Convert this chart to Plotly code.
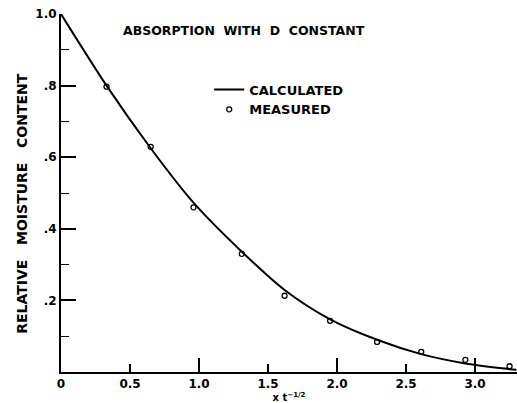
import plotly.graph_objects as go

# Calculated curve
calc_x = [0.0, 0.33, 0.65, 0.96, 1.31, 1.62, 1.95, 2.29, 2.61, 2.93, 3.30]
calc_y = [1.0, 0.80, 0.625, 0.473, 0.336, 0.229, 0.147, 0.090, 0.050, 0.024, 0.006]

# Measured points
meas_x = [0.33, 0.65, 0.96, 1.31, 1.62, 1.95, 2.29, 2.61, 2.93, 3.25]
meas_y = [0.797, 0.629, 0.46, 0.33, 0.213, 0.143, 0.084, 0.056, 0.034, 0.016]

x_tickvals = [0, 0.5, 1.0, 1.5, 2.0, 2.5, 3.0]
x_ticktext = ["0", "0.5", "1.0", "1.5", "2.0", "2.5", "3.0"]
y_tickvals = [0.2, 0.4, 0.6, 0.8, 1.0]
y_ticktext = [".2", ".4", ".6", ".8", "1.0"]

FONT = "DejaVu Sans"

fig = go.Figure()
fig.add_trace(go.Scatter(
    x=calc_x, y=calc_y, mode="lines", name="CALCULATED",
    line=dict(color="black", width=2, shape="spline", smoothing=0.8),
))
fig.add_trace(go.Scatter(
    x=meas_x, y=meas_y, mode="markers", name="MEASURED",
    marker=dict(symbol="circle-open", size=5, color="black", line=dict(width=1.3, color="black")),
))
# overlay axis carrying the longer ticks at whole numbers
fig.add_trace(go.Scatter(x=[0, 3.3], y=[0, 0], xaxis="x2", mode="lines",
                         line=dict(width=0), showlegend=False, hoverinfo="skip"))

fig.update_layout(
    width=517, height=403,
    margin=dict(l=61, r=0, t=14, b=31),
    paper_bgcolor="white", plot_bgcolor="white",
    font=dict(family=FONT, color="black"),
    showlegend=True,
    legend=dict(x=0.325, y=0.831, xanchor="left", yanchor="top",
                bgcolor="rgba(0,0,0,0)", borderwidth=0,
                font=dict(family=FONT, size=13, color="black", weight="bold"),
                tracegroupgap=0, itemwidth=30),
    xaxis=dict(
        range=[0, 3.304], showgrid=False, zeroline=False,
        showline=True, linecolor="black", linewidth=2,
        ticks="inside", ticklen=8, tickwidth=1.5, tickcolor="black",
        tickvals=x_tickvals, ticktext=x_ticktext,
        tickfont=dict(family=FONT, size=12, color="black", weight="bold"),
        title=dict(text="x t<sup>\u22121/2</sup>", font=dict(family=FONT, size=10, color="black", weight="bold"), standoff=0),
    ),
    xaxis2=dict(
        overlaying="x", matches="x", range=[0, 3.304], side="bottom",
        showgrid=False, zeroline=False, showline=False,
        ticks="inside", ticklen=14, tickwidth=1.5, tickcolor="black",
        tickvals=[1.0, 2.0, 3.0], showticklabels=False,
    ),
    yaxis=dict(
        range=[0, 1.0], showgrid=False, zeroline=False,
        showline=True, linecolor="black", linewidth=2,
        ticks="inside", ticklen=15, tickwidth=1.5, tickcolor="black",
        tickvals=y_tickvals, ticktext=y_ticktext,
        tickfont=dict(family=FONT, size=12, color="black", weight="bold"),
        minor=dict(ticks="inside", ticklen=8, tickwidth=1.2, tickcolor="black", dtick=0.1, showgrid=False),
    ),
    annotations=[
        dict(
            text="ABSORPTION  WITH  D  CONSTANT", xref="paper", yref="paper",
            x=0.401, y=0.955, xanchor="center", yanchor="middle", showarrow=False,
            font=dict(family=FONT, size=12.5, color="black", weight="bold"),
        ),
        dict(
            text="RELATIVE   MOISTURE   CONTENT", xref="paper", yref="paper",
            x=-0.0855, y=0.47, xanchor="center", yanchor="middle", showarrow=False,
            textangle=-90,
            font=dict(family=FONT, size=14, color="black", weight="bold"),
        ),
    ],
)

fig.write_html("out.html")
